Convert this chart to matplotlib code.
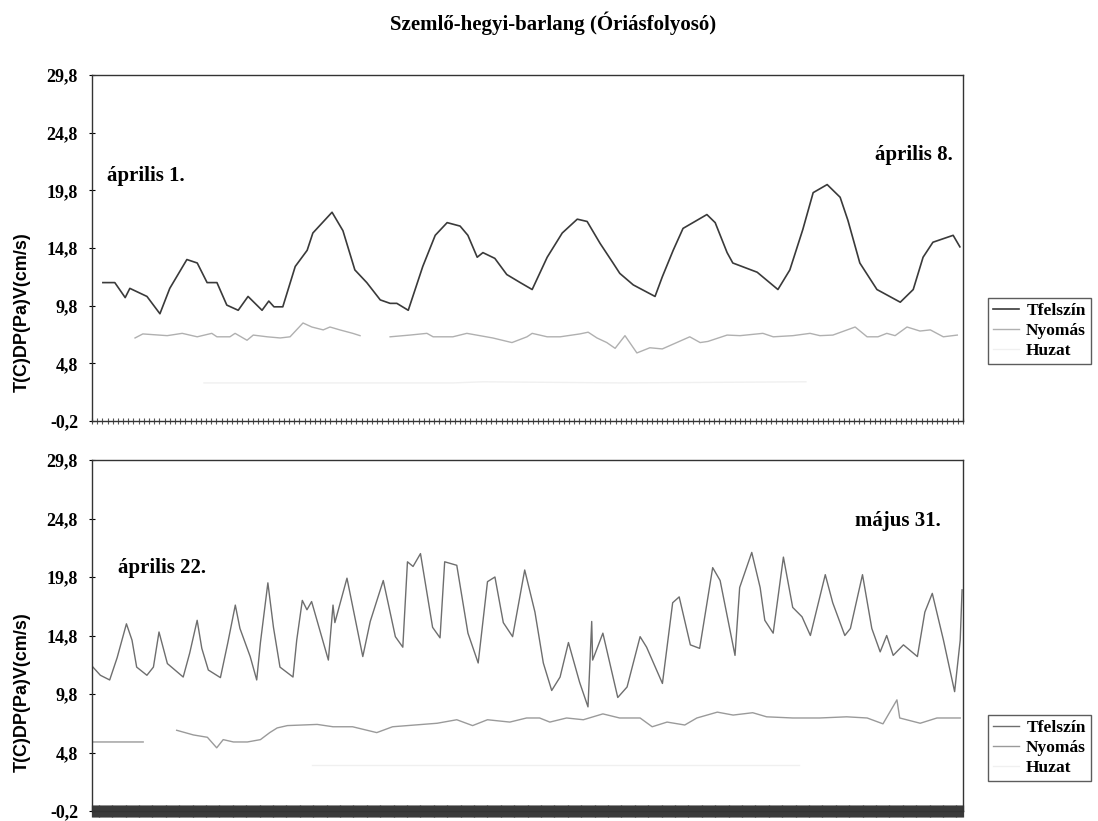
import matplotlib
matplotlib.use("Agg")
import matplotlib.pyplot as plt
import numpy as np
from matplotlib.ticker import FixedLocator, MultipleLocator

# ---------------- data ----------------
title = "Szemlő-hegyi-barlang (Óriásfolyosó)"
ylabel = "T(C)DP(Pa)V(cm/s)"
series_names = ["Tfelszín", "Nyomás", "Huzat"]
yticks = [-0.2, 4.8, 9.8, 14.8, 19.8, 24.8, 29.8]

# top panel: április 1. - április 8. (hours from start)
top_hours_total = 168
top_t_x = [2.1, 4.4, 6.4, 7.3, 10.6, 13.1, 15.0, 18.3, 20.3, 22.2, 24.1, 26.0, 28.2, 30.1,
           32.8, 34.1, 35.1, 36.8, 39.2, 41.5, 42.6, 46.3, 48.4, 50.7, 53.0, 55.6, 57.5,
           58.8, 61.0, 63.8, 66.2, 68.5, 71.0, 72.5, 74.3, 75.4, 77.7, 80.0, 82.6, 84.9,
           87.8, 90.7, 93.6, 95.5, 98.0, 100.5, 101.8, 104.4, 108.6, 110.0, 112.1, 114.0,
           118.6, 120.2, 122.5, 123.6, 128.3, 132.3, 134.6, 137.1, 139.1, 141.8, 144.3,
           145.8, 148.1, 151.4, 155.9, 158.4, 160.3, 162.2, 166.1, 167.4]
top_t_y = [11.8, 11.8, 10.5, 11.3, 10.6, 9.1, 11.3, 13.8, 13.5, 11.8, 11.8, 9.85, 9.4, 10.6,
           9.4, 10.2, 9.7, 9.7, 13.2, 14.6, 16.1, 17.9, 16.3, 12.9, 11.8, 10.3, 10.0,
           10.0, 9.4, 13.2, 15.9, 17.0, 16.7, 15.9, 14.0, 14.4, 13.9, 12.5, 11.8, 11.2,
           14.0, 16.1, 17.3, 17.1, 15.2, 13.5, 12.6, 11.6, 10.6, 12.3, 14.6, 16.5,
           17.7, 17.0, 14.4, 13.5, 12.7, 11.2, 12.9, 16.4, 19.6, 20.3, 19.2,
           17.2, 13.5, 11.2, 10.1, 11.2, 14.0, 15.3, 15.9, 14.9]

top_p_x = [8.3, 9.8, 14.5, 17.4, 20.3, 23.1, 24.1, 26.6, 27.6, 29.9, 31.1, 33.8, 36.3, 38.2,
           40.7, 42.4, 44.6, 45.9, 47.8, 50.3, 51.7, 53.0, 57.5, 61.3, 64.6, 65.8, 69.6,
           72.3, 74.8, 77.3, 81.0, 83.9, 84.9, 87.8, 90.3, 94.1, 95.7, 97.4, 99.3, 100.9,
           102.8, 105.1, 107.6, 110.0, 115.3, 117.3, 118.8, 122.5, 125.0, 129.4, 131.4,
           135.2, 138.5, 140.4, 142.9, 147.2, 149.5, 151.6, 153.3, 154.9, 157.2, 159.7,
           161.7, 164.2, 166.9]
top_p_y = [7.0, 7.35, 7.2, 7.4, 7.1, 7.4, 7.1, 7.1, 7.4, 6.8, 7.25, 7.1, 7.0, 7.1,
           8.3, 7.95, 7.7, 7.95, 7.7, 7.4, 7.2, np.nan, 7.1, 7.25, 7.4, 7.1, 7.1,
           7.4, 7.2, 7.0, 6.6, 7.1, 7.4, 7.1, 7.1, 7.35, 7.5, 7.0, 6.6, 6.1,
           7.2, 5.7, 6.15, 6.05, 7.1, 6.6, 6.7, 7.25, 7.2, 7.4, 7.1,
           7.2, 7.4, 7.2, 7.25, 7.95, 7.1, 7.1, 7.4, 7.2, 7.95, 7.6,
           7.7, 7.1, 7.25]

top_h_x = [21.6, 69.6, 75.4, 102.2, 137.7]
top_h_y = [3.1, 3.1, 3.2, 3.1, 3.2]

# bottom panel: április 22. - május 31. (hours from start)
bot_hours_total = 936
bot_t_x = [1, 9, 19, 27, 37, 43, 48, 59, 66, 72, 81, 98, 105, 113, 118, 125, 138, 146, 154,
           159, 170, 177, 181, 189, 195, 202, 216, 220, 226, 231, 236, 254, 259, 261, 274,
           291, 299, 313, 326, 334, 339, 345, 353, 366, 374, 379, 392, 404, 415, 425, 433,
           442, 452, 465, 476, 485, 494, 503, 512, 524, 533, 537, 538, 549, 565, 575, 589,
           596, 613, 624, 631, 643, 653, 667, 675, 691, 696, 709, 718, 723, 732, 743, 753,
           763, 772, 788, 796, 809, 815, 828, 838, 847, 854, 861, 872, 887, 895, 903, 915,
           927, 933, 935]
bot_t_y = [12.1, 11.4, 11.0, 12.9, 15.8, 14.4, 12.1, 11.4, 12.1, 15.1, 12.4, 11.25, 13.3,
           16.1, 13.7, 11.85, 11.2, 14.2, 17.4, 15.4, 13.0, 11.0, 14.2, 19.3, 15.5, 12.1,
           11.25, 14.4, 17.8, 17.0, 17.7, 12.7, 17.4, 15.9, 19.7, 13.0, 16.0, 19.5, 14.7,
           13.8, 21.1, 20.7, 21.8, 15.5, 14.6, 21.1, 20.8, 15.0, 12.45, 19.4, 19.8, 15.9,
           14.7, 20.4, 16.8, 12.45, 10.1, 11.25, 14.2, 10.8, 8.7, 16.0, 12.7, 15.0, 9.5,
           10.4, 14.7, 13.8, 10.7, 17.6, 18.1, 14.0, 13.7, 20.6, 19.5, 13.1, 18.9, 21.9,
           18.9, 16.1, 15.0, 21.5, 17.2, 16.4, 14.8, 20.0, 17.6, 14.8, 15.4, 20.0, 15.4,
           13.4, 14.8, 13.1, 14.0, 13.0, 16.8, 18.4, 14.4, 10.0, 14.4, 18.7]

bot_p_x = [0, 5, 55, 73, 91, 109, 124, 134, 141, 152, 167, 181, 191, 199, 210, 242, 259,
           280, 306, 323, 371, 392, 409, 425, 449, 467, 481, 492, 510, 528, 549, 567, 589,
           602, 618, 637, 650, 672, 689, 710, 725, 753, 782, 811, 833, 850, 865, 868, 890,
           908, 933]
bot_p_y = [5.7, 5.7, 5.7, np.nan, 6.7, 6.3, 6.1, 5.2, 5.9, 5.7, 5.7, 5.9, 6.5, 6.9, 7.1,
           7.2, 7.0, 7.0, 6.5, 7.0, 7.3, 7.6, 7.1, 7.6, 7.4, 7.75, 7.75, 7.4, 7.75, 7.6,
           8.1, 7.75, 7.75, 7.0, 7.4, 7.15, 7.75, 8.25, 8.0, 8.2, 7.85, 7.75, 7.75, 7.85,
           7.75, 7.25, 9.3, 7.75, 7.3, 7.75, 7.75]

bot_h_x = [236, 520, 760]
bot_h_y = [3.7, 3.7, 3.7]

labels_top = [("április 1.", 0.017, "left", 176), ("április 8.", 0.9885, "right", 155)]
labels_bot = [("április 22.", 0.03, "left", 568), ("május 31.", 0.975, "right", 521)]

# ---------------- style ----------------
W, H = 1098, 821
SERIF = "Liberation Serif"
SANS = "Liberation Sans"
colors_top = ["#3a3a3a", "#b0b0b0", "#f0f0f0"]
colors_bot = ["#6e6e6e", "#9a9a9a", "#f0f0f0"]

fig = plt.figure(figsize=(W / 100, H / 100), dpi=100)
fig.patch.set_facecolor("white")

def ax_rect(left, top, right, bottom):
    return [left / W, 1 - bottom / H, (right - left) / W, (bottom - top) / H]

ax1 = fig.add_axes(ax_rect(92, 75, 963, 421))
ax2 = fig.add_axes(ax_rect(92, 460, 963, 811))

def style_axes(ax, total, ticklen, tickcol, tickw):
    ax.set_xlim(0, total)
    ax.set_ylim(-0.2, 29.8)
    ax.yaxis.set_major_locator(FixedLocator(yticks))
    ax.set_yticklabels([f"{v:.1f}".replace(".", ",") for v in yticks],
                       fontfamily=SERIF, fontweight="bold", fontsize=13)
    ax.xaxis.set_major_locator(MultipleLocator(1))
    ax.tick_params(axis="x", which="major", direction="inout", length=ticklen,
                   width=tickw, color=tickcol, labelbottom=False)
    ax.tick_params(axis="y", direction="inout", length=4, width=0.8, pad=8)
    for s in ax.spines.values():
        s.set_linewidth(1.0)
        s.set_color("#333333")

style_axes(ax1, top_hours_total, 4, "#555555", 0.8)
style_axes(ax2, bot_hours_total, 8, "#3a3a3a", 0.9)

def draw(ax, data, cols, lws):
    handles = []
    for (x, y), c, lw, name in zip(data, cols, lws, series_names):
        h, = ax.plot(x, y, color=c, lw=lw, label=name)
        handles.append(h)
    return handles

h1 = draw(ax1, [(top_t_x, top_t_y), (top_p_x, top_p_y), (top_h_x, top_h_y)],
          colors_top, [1.2, 1.0, 1.0])
h2 = draw(ax2, [(bot_t_x, bot_t_y), (bot_p_x, bot_p_y), (bot_h_x, bot_h_y)],
          colors_bot, [1.0, 1.0, 1.0])

for ax, labs in ((ax1, labels_top), (ax2, labels_bot)):
    for text, xf, ha, ypix in labs:
        fig.text((92 + xf * 871) / W, 1 - ypix / H, text, ha=ha, va="center",
                 fontfamily=SERIF, fontweight="bold", fontsize=15)

fig.text(553 / W, 1 - 23 / H, title, ha="center", va="center",
         fontfamily=SERIF, fontweight="bold", fontsize=15)

for yc in (312, 692):
    fig.text(22 / W, 1 - yc / H, ylabel, rotation=90, ha="center", va="center",
             fontfamily=SANS, fontweight="bold", fontsize=13)

for handles, top in ((h1, 298), (h2, 715)):
    leg = fig.legend(handles=handles, loc="upper left",
                     bbox_to_anchor=(988 / W, 1 - top / H),
                     prop={"family": SERIF, "weight": "bold", "size": 12.5},
                     frameon=True, fancybox=False, handlelength=1.5,
                     handletextpad=0.4, borderpad=0.3, labelspacing=0.2,
                     borderaxespad=0)
    leg.get_frame().set_edgecolor("#333333")
    leg.get_frame().set_linewidth(1.0)

fig.savefig("out.png", dpi=100, facecolor="white")
